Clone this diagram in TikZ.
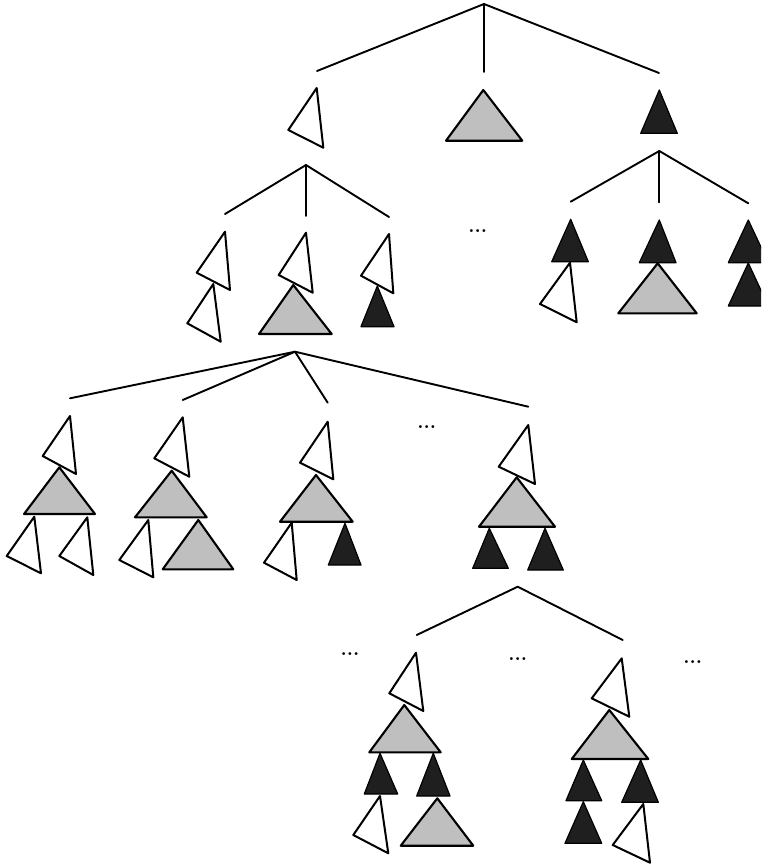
\documentclass[tikz,border=0pt]{standalone}
\usepackage{tikz}
\begin{document}
\begin{tikzpicture}[x=1pt,y=-1pt,
  line join=round, line cap=round,
  edge/.style={line width=1.9pt},
  wtri/.style={draw=black, fill=white, line width=2pt},
  gtri/.style={draw=black, fill=black!25, line width=2.1pt},
  btri/.style={draw=black, fill=black!88, line width=1.2pt},
  ell/.style={inner sep=0pt, anchor=base, font=\fontsize{20}{22}\selectfont\bfseries}]
\useasboundingbox (0,0) rectangle (761,864);
\clip (0,0) rectangle (761,864);

% ---------- level 1 ----------
\coordinate (r0) at (484,4);
\coordinate (e01) at (317,71);
\coordinate (e02) at (484,72);
\coordinate (e03) at (659,73);
\draw[edge] (r0) -- (e01);
\draw[edge] (r0) -- (e02);
\draw[edge] (r0) -- (e03);
\draw[wtri] (316.7,88) -- (288.3,130) -- (323.3,147.7) -- cycle;
\draw[gtri] (483.3,90) -- (446,140.7) -- (522.3,140.7) -- cycle;
\draw[btri] (659.3,90) -- (640.7,133.3) -- (677.3,133.3) -- cycle;

% ---------- level 2 left ----------
\coordinate (r1) at (306,165);
\coordinate (e11) at (225,214);
\coordinate (e12) at (306,216);
\coordinate (e13) at (389,217);
\draw[edge] (r1) -- (e11);
\draw[edge] (r1) -- (e12);
\draw[edge] (r1) -- (e13);
\draw[wtri] (225,231.7) -- (196.7,272.7) -- (230,290) -- cycle;
\draw[wtri] (213.3,284) -- (187.3,323.3) -- (220.7,341.7) -- cycle;
\draw[wtri] (306,232.7) -- (278.7,275) -- (312.7,292.7) -- cycle;
\draw[gtri] (293.3,285) -- (259,334) -- (331.7,334) -- cycle;
\draw[wtri] (389,234) -- (361,275.7) -- (393.3,293.3) -- cycle;
\draw[btri] (377.3,286) -- (361,326.7) -- (394,326.7) -- cycle;
\node[ell] (d1) at (477.7,232.4) {...};

% ---------- level 2 right ----------
\coordinate (r2) at (659.3,151);
\coordinate (e21) at (570.7,201.7);
\coordinate (e22) at (659.3,202.3);
\coordinate (e23) at (748.3,203.3);
\draw[edge] (r2) -- (e21);
\draw[edge] (r2) -- (e22);
\draw[edge] (r2) -- (e23);
\draw[btri] (570.7,219.3) -- (551.7,261.7) -- (588.3,261.7) -- cycle;
\draw[wtri] (570,262.7) -- (540,304) -- (576.7,322.3) -- cycle;
\draw[btri] (659.3,220) -- (639.3,262.7) -- (676,262.7) -- cycle;
\draw[gtri] (657.7,263.3) -- (618.3,313.3) -- (696.7,313.3) -- cycle;
\draw[btri] (748.3,220) -- (728.3,262.7) -- (768.3,262.7) -- cycle;
\draw[btri] (748.3,263) -- (728.3,306) -- (768.3,306) -- cycle;

% ---------- level 3 ----------
\coordinate (r3) at (295,351.7);
\coordinate (e31) at (70,398.3);
\coordinate (e32) at (182.7,400);
\coordinate (e33) at (327.7,402.7);
\coordinate (e34) at (528.3,406.7);
\draw[edge] (r3) -- (e31);
\draw[edge] (r3) -- (e32);
\draw[edge] (r3) -- (e33);
\draw[edge] (r3) -- (e34);
% a
\draw[wtri] (70,416) -- (42.7,456) -- (76,474) -- cycle;
\draw[gtri] (59.3,467.3) -- (24,514) -- (95,514) -- cycle;
\draw[wtri] (34.3,516.7) -- (6.7,556) -- (41,573.3) -- cycle;
\draw[wtri] (87.3,517.3) -- (59.3,556) -- (93.3,575) -- cycle;
% b
\draw[wtri] (182.7,417.3) -- (154.3,458.3) -- (189.3,476.7) -- cycle;
\draw[gtri] (171.7,470.7) -- (135,517.3) -- (206.7,517.3) -- cycle;
\draw[wtri] (148.3,520) -- (119.3,560) -- (153.3,577.3) -- cycle;
\draw[gtri] (198.3,520) -- (162.7,569.3) -- (233.3,569.3) -- cycle;
% c
\draw[wtri] (327.7,421.7) -- (300,462.7) -- (333.3,479.3) -- cycle;
\draw[gtri] (316,475) -- (280,521.7) -- (352.7,521.7) -- cycle;
\draw[wtri] (291.7,522.7) -- (264,562.7) -- (296.7,580) -- cycle;
\draw[btri] (345,523.3) -- (328.3,565) -- (361,565) -- cycle;
\node[ell] (d2) at (426.7,428.4) {...};
% d
\draw[wtri] (528.3,425) -- (498.7,466.7) -- (535,484) -- cycle;
\draw[gtri] (516.7,477.3) -- (479,526.7) -- (555,526.7) -- cycle;
\draw[btri] (489.3,528.3) -- (472.7,568.3) -- (508.3,568.3) -- cycle;
\draw[btri] (545,528.3) -- (527.7,570) -- (563.3,570) -- cycle;

% ---------- level 4 ----------
\coordinate (r4) at (517.7,586.7);
\coordinate (e41) at (416.7,635);
\coordinate (e42) at (622.7,640);
\draw[edge] (r4) -- (e41);
\draw[edge] (r4) -- (e42);
\node[ell] (d3) at (350,655.7) {...};
\node[ell] (d4) at (517.7,660.7) {...};
\node[ell] (d5) at (692.7,663.4) {...};
% A
\draw[wtri] (416,652.7) -- (389.3,693.3) -- (423.3,711) -- cycle;
\draw[gtri] (404.3,705) -- (369.3,752.3) -- (440.7,752.3) -- cycle;
\draw[btri] (380,753.3) -- (364.3,794) -- (397.7,794) -- cycle;
\draw[btri] (433.3,753.3) -- (416.7,796) -- (450,796) -- cycle;
\draw[wtri] (380,796) -- (353.3,835) -- (388.3,853.3) -- cycle;
\draw[gtri] (437.3,798.3) -- (400.7,845.7) -- (473.3,845.7) -- cycle;
% B
\draw[wtri] (621.7,658.3) -- (591.7,698.3) -- (629.3,716.7) -- cycle;
\draw[gtri] (609.3,710) -- (571.7,759) -- (648.3,759) -- cycle;
\draw[btri] (583.3,760) -- (566,800.7) -- (601.7,800.7) -- cycle;
\draw[btri] (583.3,801.7) -- (565,843.3) -- (601.7,843.3) -- cycle;
\draw[btri] (640.7,760) -- (621.7,802.3) -- (658.3,802.3) -- cycle;
\draw[wtri] (643.3,804) -- (612.7,845) -- (650,862.7) -- cycle;
\end{tikzpicture}
\end{document}
